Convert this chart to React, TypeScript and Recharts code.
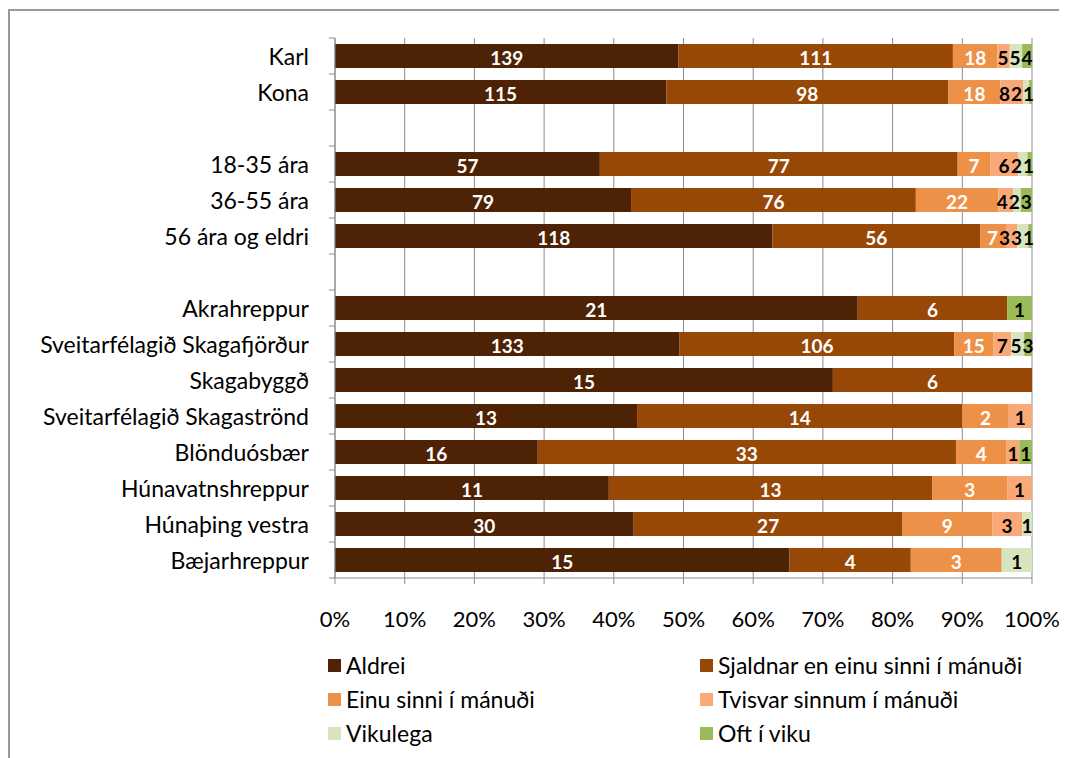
import React from "react"
import { Bar, BarChart, CartesianGrid, LabelList, XAxis, YAxis } from "recharts"

// rows, top to bottom (empty strings are the spacer rows)
const categories = [
  "Karl",
  "Kona",
  "",
  "18-35 ára",
  "36-55 ára",
  "56 ára og eldri",
  "",
  "Akrahreppur",
  "Sveitarfélagið Skagafjörður",
  "Skagabyggð",
  "Sveitarfélagið Skagaströnd",
  "Blönduósbær",
  "Húnavatnshreppur",
  "Húnaþing vestra",
  "Bæjarhreppur",
]

// answer counts per row
const aldrei = [139, 115, 0, 57, 79, 118, 0, 21, 133, 15, 13, 16, 11, 30, 15]
const sjaldnar = [111, 98, 0, 77, 76, 56, 0, 6, 106, 6, 14, 33, 13, 27, 4]
const einuSinni = [18, 18, 0, 7, 22, 7, 0, 0, 15, 0, 2, 4, 3, 9, 3]
const tvisvar = [5, 8, 0, 6, 4, 3, 0, 0, 7, 0, 1, 1, 1, 3, 0]
const vikulega = [5, 2, 0, 2, 2, 3, 0, 0, 5, 0, 0, 0, 0, 1, 1]
const oftIViku = [4, 1, 0, 1, 3, 1, 0, 1, 3, 0, 0, 1, 0, 0, 0]

const xTicks = [0, 0.1, 0.2, 0.3, 0.4, 0.5, 0.6, 0.7, 0.8, 0.9, 1]

const series = [
  { key: "aldrei", name: "Aldrei", values: aldrei, color: "#4D2205", labelColor: "#fff" },
  { key: "sjaldnar", name: "Sjaldnar en einu sinni í mánuði", values: sjaldnar, color: "#974807", labelColor: "#fff" },
  { key: "einu", name: "Einu sinni í mánuði", values: einuSinni, color: "#EE9148", labelColor: "#fff" },
  { key: "tvisvar", name: "Tvisvar sinnum í mánuði", values: tvisvar, color: "#F8A977", labelColor: "#000" },
  { key: "vikulega", name: "Vikulega", values: vikulega, color: "#D8E4BE", labelColor: "#000" },
  { key: "oft", name: "Oft í viku", values: oftIViku, color: "#9BBB59", labelColor: "#000" },
]

const data = categories.map((name, i) => {
  const row: any = { name, row: `r${i}` }
  series.forEach((s) => (row[s.key] = s.values[i]))
  return row
})

const FONT = "Lato, 'Open Sans', sans-serif"
const AXIS = "#8c8c8c"
const TEXT_SIZE = 23
const LABEL_SIZE = 19
const DIGIT_W = 11

const YTick = (props: any) => {
  const { x, y, payload, index } = props
  const ax = x + 26
  const half = 18
  return (
    <g>
      <line x1={ax - 6} x2={ax} y1={y - half} y2={y - half} stroke={AXIS} />
      {index === categories.length - 1 && <line x1={ax - 6} x2={ax} y1={y + half} y2={y + half} stroke={AXIS} />}
      <text x={x} y={y} textAnchor="end" dominantBaseline="central" fontSize={TEXT_SIZE} fill="#000" fontFamily={FONT}>
        {payload.value}
      </text>
    </g>
  )
}

// centre x of a label, pushed left where small segments at the end of a row would collide
function labelCenter(row: number, segIdx: number, x: number, width: number) {
  const vals = series.map((s) => s.values[row])
  const value = vals[segIdx]
  const perCount = width / value
  let before = 0
  for (let k = 0; k < segIdx; k++) before += vals[k]
  let pos = x - before * perCount
  const items: { k: number; c: number; w: number }[] = []
  vals.forEach((v, k) => {
    const w = v * perCount
    if (v > 0) items.push({ k, c: pos + w / 2, w: String(v).length * DIGIT_W })
    pos += w
  })
  const end = pos
  for (let j = items.length - 1; j >= 0; j--) {
    const limit =
      j === items.length - 1 ? end - items[j].w / 2 + 2 : items[j + 1].c - (items[j].w + items[j + 1].w) / 2 - 1
    items[j].c = Math.min(items[j].c, limit)
  }
  const mine = items.find((it) => it.k === segIdx)
  return mine ? mine.c : x + width / 2
}

const segLabel = (segIdx: number, fill: string) => (props: any) => {
  const { x, y, width, height, value } = props
  const row = Number(String(value).slice(1))
  if (!Number.isFinite(row)) return null
  const count = series[segIdx].values[row]
  if (!count) return null
  const cx = labelCenter(row, segIdx, Number(x), Number(width))
  return (
    <text
      x={cx}
      y={Number(y) + Number(height) / 2 + 1}
      textAnchor="middle"
      dominantBaseline="central"
      fontSize={LABEL_SIZE}
      fontWeight="bold"
      fill={fill}
      fontFamily={FONT}
    >
      {count}
    </text>
  )
}

export default function App() {
  return (
    <div style={{ position: "relative", width: 1059, height: 750, overflow: "hidden", fontFamily: FONT }}>
      <style>{"html, body { overflow: hidden; } .recharts-surface { overflow: visible; }"}</style>
      <div
        style={{
          position: "absolute",
          left: 0,
          top: 1,
          width: 1100,
          height: 800,
          borderTop: "2px solid #9a9a9a",
          borderLeft: "2px solid #9a9a9a",
        }}
      />
      <BarChart
        width={1059}
        height={750}
        data={data}
        layout="vertical"
        stackOffset="expand"
        margin={{ top: 30, right: 35, bottom: 140, left: 0 }}
        style={{ position: "absolute", left: 0, top: 0 }}
      >
        <CartesianGrid horizontal={false} stroke={AXIS} />
        <XAxis
          type="number"
          domain={[0, 1]}
          ticks={xTicks}
          tickFormatter={(v) => `${Math.round(v * 100)}%`}
          axisLine={{ stroke: AXIS }}
          tickLine={{ stroke: AXIS }}
          tickSize={6}
          tickMargin={27}
          height={40}
          tick={{ fontSize: 22, fill: "#000", fontFamily: FONT }}
          interval={0}
        />
        <YAxis
          type="category"
          dataKey="name"
          width={327}
          axisLine={{ stroke: AXIS }}
          tickLine={false}
          tickSize={6}
          tickMargin={20}
          interval={0}
          tick={<YTick />}
        />
        {series.map((s, si) => (
          <Bar key={s.key} dataKey={s.key} name={s.name} stackId="a" fill={s.color} barSize={24} isAnimationActive={false}>
            <LabelList dataKey="row" content={segLabel(si, s.labelColor)} />
          </Bar>
        ))}
      </BarChart>
      <div
        style={{
          position: "absolute",
          left: 320,
          top: 640,
          display: "grid",
          gridTemplateColumns: "372px auto",
          gridAutoRows: 34,
          fontSize: TEXT_SIZE,
          color: "#000",
        }}
      >
        {series.map((s) => (
          <div key={s.key} style={{ display: "flex", alignItems: "center", gap: 5 }}>
            <div style={{ width: 13, height: 13, background: s.color }} />
            <span>{s.name}</span>
          </div>
        ))}
      </div>
    </div>
  )
}
